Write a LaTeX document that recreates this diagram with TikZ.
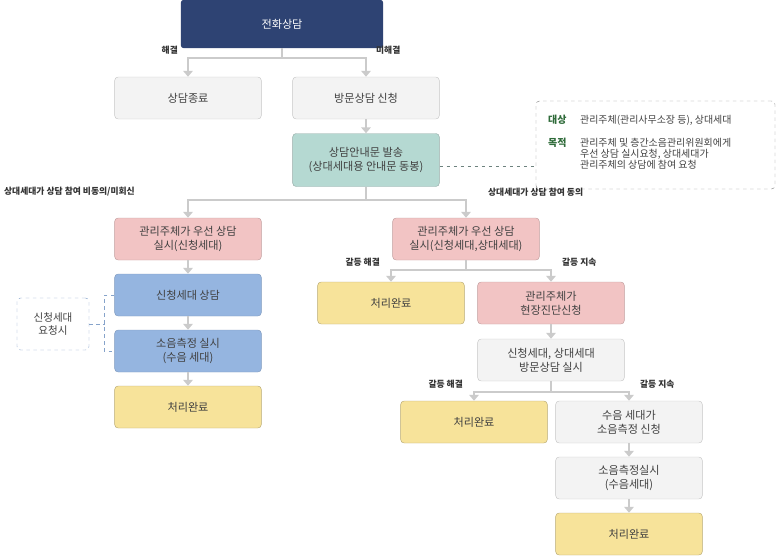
\documentclass[tikz,border=0pt]{standalone}
\usepackage{fontspec}
\setmainfont{Noto Sans CJK KR}
\usetikzlibrary{positioning,arrows.meta}
\definecolor{navy}{HTML}{2E4373}
\definecolor{boxgray}{HTML}{F3F3F3}
\definecolor{teal}{HTML}{B5D9D2}
\definecolor{pink}{HTML}{F2C4C4}
\definecolor{blu}{HTML}{95B5E0}
\definecolor{yel}{HTML}{F7E39A}
\definecolor{lin}{HTML}{CBCBCB}
\definecolor{grn}{HTML}{2F6B3A}
\tikzset{
  bx/.style={rectangle, rounded corners=3pt, minimum width=4.4cm, minimum height=1.26cm, text centered, align=center, font=\fontsize{9.5}{12}\selectfont, text=black!75},
  gr/.style={bx, draw=black!22, fill=boxgray},
  tl/.style={bx, draw=teal!70!black!80, fill=teal},
  pk/.style={bx, draw=pink!80!black, fill=pink},
  bl/.style={bx, draw=blu!85!black, fill=blu},
  yl/.style={bx, draw=yel!75!black, fill=yel},
  ar/.style={lin, line width=2.2pt, -{Triangle[width=8pt,length=5pt]}},
  ln/.style={lin, line width=2.2pt},
  lb/.style={font=\fontsize{7.5}{9}\selectfont\bfseries, text=black!80},
}
\begin{document}
\begin{tikzpicture}[x=0.03cm,y=-0.03cm]
	\useasboundingbox (0,0) rectangle (776,557);
	\node[bx, fill=navy, text=white, minimum width=6.06cm, minimum height=1.44cm, rounded corners=2pt] (call) at (282,24) {전화상담};
	\node[gr] (end) at (188,98) {상담종료};
	\node[gr] (visit) at (366,98) {방문상담 신청};
	\node[tl, minimum height=1.59cm] (notice) at (366,160) {상담안내문 발송\\(상대세대용 안내문 동봉)};
	\node[draw=black!45, dashed, rounded corners=3pt, minimum width=7.17cm, minimum height=2.64cm] (info) at (655.5,145) {};
	\node[pk] (lpk) at (188,239) {관리주체가 우선 상담\\실시(신청세대)};
	\node[pk] (rpk) at (466,239) {관리주체가 우선 상담\\실시(신청세대,상대세대)};
	\node[bl] (lbl) at (188,295) {신청세대 상담};
	\node[bl] (meas) at (188,351) {소음측정 실시\\(수음 세대)};
	\node[yl] (ldone) at (188,407) {처리완료};
	\node[draw=blu!90!black, dashed, rounded corners=3pt, minimum width=2.16cm, minimum height=1.56cm, align=center, font=\fontsize{9}{11}\selectfont, text=black!75] (req) at (53,324) {신청세대\\요청시};
	\node[yl] (mdone) at (391,303) {처리완료};
	\node[pk] (diag) at (551,303) {관리주체가\\현장진단신청};
	\node[gr] (both) at (551,360) {신청세대, 상대세대\\방문상담 실시};
	\node[yl] (rdone) at (474,422) {처리완료};
	\node[gr] (ask) at (629,422) {수음 세대가\\소음측정 신청};
	\node[gr] (rmeas) at (629,478) {소음측정실시\\(수음세대)};
	\node[yl] (last) at (629,534) {처리완료};
	% info texts
	\node[anchor=north west, font=\fontsize{8.5}{10}\selectfont\bfseries, text=grn] at (544,111) {대상};
	\node[anchor=north west, font=\fontsize{8.5}{10}\selectfont, text=black!75] at (576,111) {관리주체(관리사무소장 등), 상대세대};
	\node[anchor=north west, font=\fontsize{8.5}{10}\selectfont\bfseries, text=grn] at (544,134) {목적};
	\node[anchor=north west, align=left, font=\fontsize{8.5}{9.6}\selectfont, text=black!75] at (576,134) {관리주체 및 층간소음관리위원회에게\\우선 상담 실시요청, 상대세대가\\관리주체의 상담에 참여 요청};
	%
	\coordinate (s1) at (282,58);
	\coordinate (s2) at (366,200);
	\coordinate (s3) at (466,270);
	\coordinate (s4) at (551,392);
	\draw[ln] (call) -- (s1);
	\draw[ar] (s1) -| (end);
	\draw[ar] (s1) -| (visit);
	\draw[ar] (visit) -- (notice);
	\draw[ln] (notice) -- (s2);
	\draw[ar] (s2) -| (lpk);
	\draw[ar] (s2) -| (rpk);
	\draw[ar] (lpk) -- (lbl);
	\draw[ar] (lbl) -- (meas);
	\draw[ar] (meas) -- (ldone);
	\draw[ln] (rpk) -- (s3);
	\draw[ar] (s3) -| (mdone);
	\draw[ar] (s3) -| (diag);
	\draw[ar] (diag) -- (both);
	\draw[ln] (both) -- (s4);
	\draw[ar] (s4) -| (rdone);
	\draw[ar] (s4) -| (ask);
	\draw[ar] (ask) -- (rmeas);
	\draw[ar] (rmeas) -- (last);
	\draw[teal!60!black, dashed] (notice.east |- 0,166) -- (info.west |- 0,166);
	\draw[blu!90!black, dashed] (req.east) -- ++(16,0) coordinate (b) (lbl.west) -- ++(-10,0) |- (meas.west);
	% branch labels
	\node[lb, anchor=south east] at (182,58) {해결};
	\node[lb, anchor=south west] at (372,58) {미해결};
	\node[lb, anchor=south west] at (0,200) {상대세대가 상담 참여 비동의/미회신};
	\node[lb, anchor=south west] at (484,200) {상대세대가 상담 참여 동의};
	\node[lb, anchor=south east] at (384,270) {갈등 해결};
	\node[lb, anchor=south west] at (558,270) {갈등 지속};
	\node[lb, anchor=south east] at (467,392) {갈등 해결};
	\node[lb, anchor=south west] at (636,392) {갈등 지속};
\end{tikzpicture}
\end{document}
